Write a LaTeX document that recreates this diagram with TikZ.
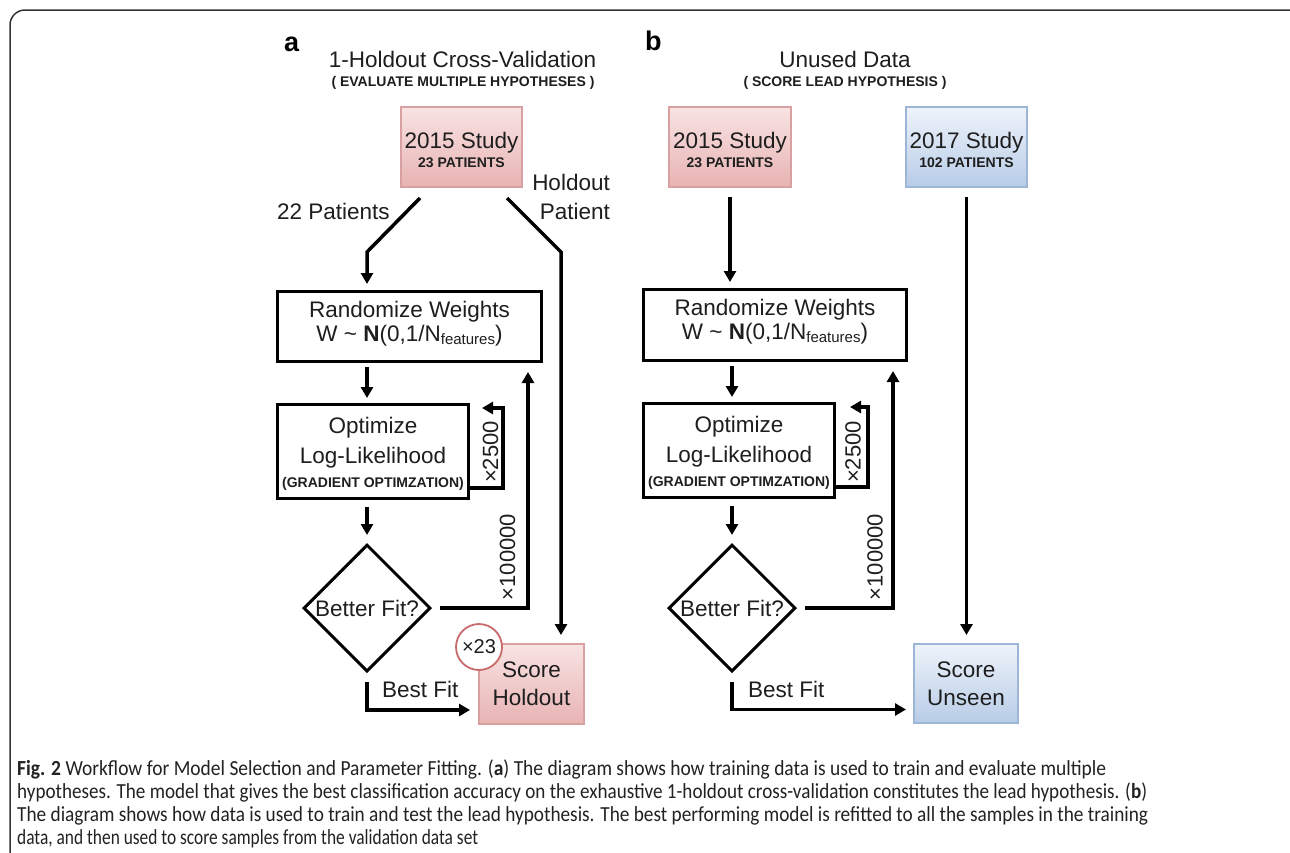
\documentclass[tikz,border=0pt]{standalone}
\usepackage{fontspec}
\setmainfont{Liberation Sans}
\newfontfamily\capfont{Carlito}
\usetikzlibrary{arrows.meta,shapes.geometric,calc}

\definecolor{pinkfillA}{HTML}{F8E3E3}
\definecolor{pinkfillB}{HTML}{E8B3B3}
\definecolor{pinkline}{HTML}{D9A0A2}
\definecolor{bluefillA}{HTML}{EEF3FA}
\definecolor{bluefillB}{HTML}{B8CCE7}
\definecolor{blueline}{HTML}{9DB6D8}
\definecolor{captext}{HTML}{222222}
\definecolor{circline}{HTML}{C86A6A}
\definecolor{txt}{HTML}{1E1E1E}

\begin{document}
\begin{tikzpicture}[x=1pt,y=-1pt,
  maintxt/.style={font=\fontsize{22.5}{27}\selectfont, text=txt, inner sep=0pt},
  smalltxt/.style={font=\bfseries\fontsize{14}{16}\selectfont, text=txt, inner sep=0pt},
  looptxt/.style={font=\fontsize{22}{22}\selectfont, text=txt, inner sep=0pt, rotate=90},
  blackbox/.style={draw=black, line width=3pt, inner sep=0pt},
  pinkbox/.style={draw=pinkline, line width=2pt, top color=pinkfillA, bottom color=pinkfillB, inner sep=0pt},
  bluebox/.style={draw=blueline, line width=2pt, top color=bluefillA, bottom color=bluefillB, inner sep=0pt},
  decision/.style={draw=black, line width=3pt, diamond, inner sep=0pt, minimum width=127pt, minimum height=127pt},
  arr/.style={line width=3.5pt, -{Triangle[length=11pt,width=12pt]}},
  captxt/.style={font=\capfont\fontsize{21.5}{23}\selectfont, text=captext, inner sep=0pt, anchor=base west},
]
\clip (0,0) rectangle (1290,852);
\fill[white] (0,0) rectangle (1290,852);
\draw[line width=1.5pt, draw=black!80, rounded corners=15pt] (10,10) rectangle (1305,866);

% ---------------- panel a ----------------
\node[font=\bfseries\fontsize{27}{27}\selectfont, anchor=base west, inner sep=0pt] (pa) at (284,51) {a};
\node[maintxt, anchor=base] (ta1) at (462.5,67) {1-Holdout Cross-Validation};
\node[smalltxt, anchor=base] (ta2) at (463,86) {( EVALUATE MULTIPLE HYPOTHESES )};

\node[pinkbox, minimum width=121pt, minimum height=80pt] (s15a) at (461.5,147) {};
\node[maintxt, anchor=base] (s15at) at ($(s15a.center)+(0,1)$) {2015 Study};
\node[smalltxt, anchor=base] (s15ap) at ($(s15a.center)+(0,20)$) {23 PATIENTS};

\node[blackbox, minimum width=264pt, minimum height=70pt] (rwa) at (409.5,326.5) {};
\node[maintxt, anchor=base] (rwat1) at ($(rwa.center)+(0,-9.5)$) {Randomize Weights};
\node[maintxt, anchor=base] (rwat2) at ($(rwa.center)+(0,14.5)$) {W \textasciitilde{} \textbf{N}(0,1/N\raisebox{-3pt}{\fontsize{15}{15}\selectfont features})};

\node[blackbox, minimum width=191pt, minimum height=94pt] (opa) at (373,451.5) {};
\node[maintxt, anchor=base] (opat1) at ($(opa.center)+(0,-18.5)$) {Optimize};
\node[maintxt, anchor=base] (opat2) at ($(opa.center)+(0,11.5)$) {Log-Likelihood};
\node[smalltxt, anchor=base] (opat3) at ($(opa.center)+(0,35.5)$) {(GRADIENT OPTIMZATION)};

\node[decision] (dfa) at (367,608) {};
\node[maintxt] (dfat) at (dfa.center) {Better Fit?};

\node[pinkbox, minimum width=105pt, minimum height=80pt] (sha) at (531.5,684) {};
\node[maintxt, anchor=base] (shat1) at ($(sha.center)+(0,-7)$) {Score};
\node[maintxt, anchor=base] (shat2) at ($(sha.center)+(0,21)$) {Holdout};
\node[circle, draw=circline, line width=1.8pt, fill=white, minimum size=46pt, inner sep=0pt, font=\fontsize{20}{20}\selectfont, text=txt] (x23) at (479,647) {×23};

\node[maintxt, anchor=base west] (l22) at (277,219) {22 Patients};
\node[maintxt, anchor=base east] (lho) at (610,190) {Holdout};
\node[maintxt, anchor=base east] (lpa) at (610,219) {Patient};

\coordinate (ka1) at (367,252);
\coordinate (ka2) at (561,252);
\draw[arr, shorten >=6pt] ($(s15a.south)+(-41.5,10)$) -- (ka1) -- (ka1 |- rwa.north);
\draw[arr, shorten >=8pt] ($(s15a.south)+(45.5,10)$) -- (ka2) -- (ka2 |- sha.north);
\draw[arr, shorten <=4pt, shorten >=5pt] (rwa.south -| dfa.north) -- (opa.north -| dfa.north);
\draw[arr] ([yshift=12pt]opa.south east) -- ++(33,0) |- ([xshift=12pt,yshift=-5pt]opa.north east);
\draw[arr, shorten <=7pt, shorten >=8pt] (opa.south -| dfa.north) -- (dfa.north);
\draw[arr] ([xshift=8pt]dfa.east) -| ([xshift=-15pt,yshift=-9pt]rwa.south east);
\draw[arr] ([yshift=-9pt]dfa.south) |- ([xshift=-8pt,yshift=-26pt]sha.west);

\node[looptxt] (la1) at (490.5,452) {×2500};
\node[looptxt] (la2) at (507.5,557) {×100000};
\node[maintxt, anchor=base west] (lbfa) at (382,697) {Best Fit};

% ---------------- panel b ----------------
\node[font=\bfseries\fontsize{27}{27}\selectfont, anchor=base west, inner sep=0pt] (pb) at (645,50) {b};
\node[maintxt, anchor=base] (tb1) at (845,67) {Unused Data};
\node[smalltxt, anchor=base] (tb2) at (845,86) {( SCORE LEAD HYPOTHESIS )};

\node[pinkbox, minimum width=122pt, minimum height=80pt] (s15b) at (730,147) {};
\node[maintxt, anchor=base] (s15bt) at ($(s15b.center)+(0,1)$) {2015 Study};
\node[smalltxt, anchor=base] (s15bp) at ($(s15b.center)+(0,20)$) {23 PATIENTS};

\node[bluebox, minimum width=121pt, minimum height=80pt] (s17b) at (966.5,147) {};
\node[maintxt, anchor=base] (s17bt) at ($(s17b.center)+(0,1)$) {2017 Study};
\node[smalltxt, anchor=base] (s17bp) at ($(s17b.center)+(0,20)$) {102 PATIENTS};

\node[blackbox, minimum width=263pt, minimum height=71pt] (rwb) at (775,325) {};
\node[maintxt, anchor=base] (rwbt1) at ($(rwb.center)+(0,-9.5)$) {Randomize Weights};
\node[maintxt, anchor=base] (rwbt2) at ($(rwb.center)+(0,14.5)$) {W \textasciitilde{} \textbf{N}(0,1/N\raisebox{-3pt}{\fontsize{15}{15}\selectfont features})};

\node[blackbox, minimum width=191pt, minimum height=94pt] (opb) at (739,450.5) {};
\node[maintxt, anchor=base] (opbt1) at ($(opb.center)+(0,-18.5)$) {Optimize};
\node[maintxt, anchor=base] (opbt2) at ($(opb.center)+(0,11.5)$) {Log-Likelihood};
\node[smalltxt, anchor=base] (opbt3) at ($(opb.center)+(0,35.5)$) {(GRADIENT OPTIMZATION)};

\node[decision] (dfb) at (732,608) {};
\node[maintxt] (dfbt) at (dfb.center) {Better Fit?};

\node[bluebox, minimum width=104pt, minimum height=79pt] (sub) at (966,683.5) {};
\node[maintxt, anchor=base] (subt1) at ($(sub.center)+(0,-6.5)$) {Score};
\node[maintxt, anchor=base] (subt2) at ($(sub.center)+(0,21.5)$) {Unseen};

\draw[arr, shorten <=9pt, shorten >=6pt] (s15b.south) -- (s15b.south |- rwb.north);
\draw[arr, shorten <=9pt, shorten >=8pt] (s17b.south) -- (s17b.south |- sub.north);
\draw[arr, shorten <=4pt, shorten >=5pt] (rwb.south -| dfb.north) -- (opb.north -| dfb.north);
\draw[arr] ([yshift=12pt]opb.south east) -- ++(32,0) |- ([xshift=14pt,yshift=-5pt]opb.north east);
\draw[arr, shorten <=7pt, shorten >=8pt] (opb.south -| dfb.north) -- (dfb.north);
\draw[arr] ([xshift=8pt]dfb.east) -| ([xshift=-15pt,yshift=-9pt]rwb.south east);
\draw[arr] ([yshift=-9pt]dfb.south) |- ([xshift=-7pt,yshift=-26pt]sub.west);

\node[looptxt] (lb1) at (853,452) {×2500};
\node[looptxt] (lb2) at (875,557) {×100000};
\node[maintxt, anchor=base west] (lbfb) at (748,697) {Best Fit};

% ---------------- caption ----------------
\node[captxt] (cap1) at (17,775) {\resizebox{1089pt}{\height}{\textbf{Fig. 2} Workflow for Model Selection and Parameter Fitting. (\textbf{a}) The diagram shows how training data is used to train and evaluate multiple}};
\node[captxt] (cap2) at (17,798) {\resizebox{1130pt}{\height}{hypotheses. The model that gives the best classification accuracy on the exhaustive 1-holdout cross-validation constitutes the lead hypothesis. (\textbf{b})}};
\node[captxt] (cap3) at (17,821) {\resizebox{1131pt}{\height}{The diagram shows how data is used to train and test the lead hypothesis. The best performing model is refitted to all the samples in the training}};
\node[captxt] (cap4) at (17,844) {\resizebox{461pt}{\height}{data, and then used to score samples from the validation data set}};
\end{tikzpicture}
\end{document}
